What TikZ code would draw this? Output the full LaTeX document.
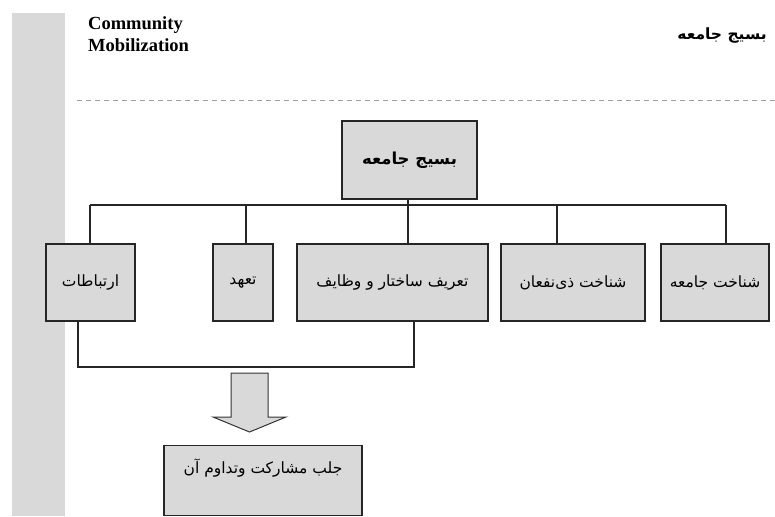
\documentclass[tikz,border=0pt]{standalone}
\usepackage{fontspec}
\setmainfont{Liberation Serif}
\newfontfamily\arabicfont[Script=Arabic]{DejaVu Sans}
\TeXXeTstate=1
\definecolor{boxgray}{RGB}{217,217,217}
\definecolor{dashgray}{RGB}{160,160,160}
\tikzset{
  box/.style={draw=black!85, fill=boxgray, line width=1.2pt, inner sep=0pt,
    minimum height=77pt, font=\arabicfont\fontsize{15.5}{18}\selectfont},
  link/.style={draw=black!85, line width=1.2pt}
}

\begin{document}
\begin{tikzpicture}[x=1pt,y=-1pt]
\useasboundingbox (0,0) rectangle (775,516);
\fill[boxgray] (12,13) rectangle (65,516);

% titles
\node[align=left, anchor=north west, inner sep=0pt, font=\bfseries\fontsize{18.5}{22}\selectfont] (entitle) at (88,16) {Community\\Mobilization};
\node[font=\arabicfont\bfseries\fontsize{15.5}{18}\selectfont] (fatitle) at (722,36) {\beginR بسیج جامعه\endR};
\draw[dashgray, line width=0.8pt, dash pattern=on 5pt off 4pt] (77,100) -- (775,100);

\node[box, minimum width=135pt, minimum height=78pt, font=\arabicfont\bfseries\fontsize{16.5}{19}\selectfont] (top) at (409.5,160) {\beginR بسیج جامعه\endR};

\node[box, minimum width=89pt] (ertebat) at (90.5,282.5) {\beginR ارتباطات\endR};
\node[box, minimum width=60pt] (tahod) at (243,282.5) {\beginR تعهد\endR};
\node[box, minimum width=191pt] (tarif) at (392.5,282.5) {\beginR تعریف ساختار و وظایف\endR};
\node[box, minimum width=144pt] (zinafan) at (573,282.5) {\beginR شناخت ذی‌نفعان\endR};
\node[box, minimum width=108pt] (jame) at (715,282.5) {\beginR شناخت جامعه\endR};

\node[box, minimum width=198pt, minimum height=70pt, anchor=north, text height=28pt, text depth=42pt] (jalb) at (263,445) {\beginR جلب مشارکت وتداوم آن\endR};

% bus above the boxes
\coordinate (b1) at (90,205);
\coordinate (b2) at (246,205);
\coordinate (b3) at (408,205);
\coordinate (b4) at (557,205);
\coordinate (b5) at (726,205);
\draw[link] (b1) -- (b5);
\draw[link] (top.south -| b3) -- (b3 |- tarif.north);
\draw[link] (b1) -- (b1 |- ertebat.north);
\draw[link] (b2) -- (b2 |- tahod.north);
\draw[link] (b4) -- (b4 |- zinafan.north);
\draw[link] (b5) -- (b5 |- jame.north);

% bus below
\coordinate (c1) at (78,367);
\coordinate (c2) at (414,367);
\draw[link] (c1 |- ertebat.south) -- (c1) -- (c2) -- (c2 |- tarif.south);

% block arrow
\draw[fill=boxgray, draw=black!80, line width=1pt] (231,373) -- (268,373) -- (268,417) -- (286,417) -- (249.5,432) -- (213,417) -- (231,417) -- cycle;
\end{tikzpicture}
\end{document}
